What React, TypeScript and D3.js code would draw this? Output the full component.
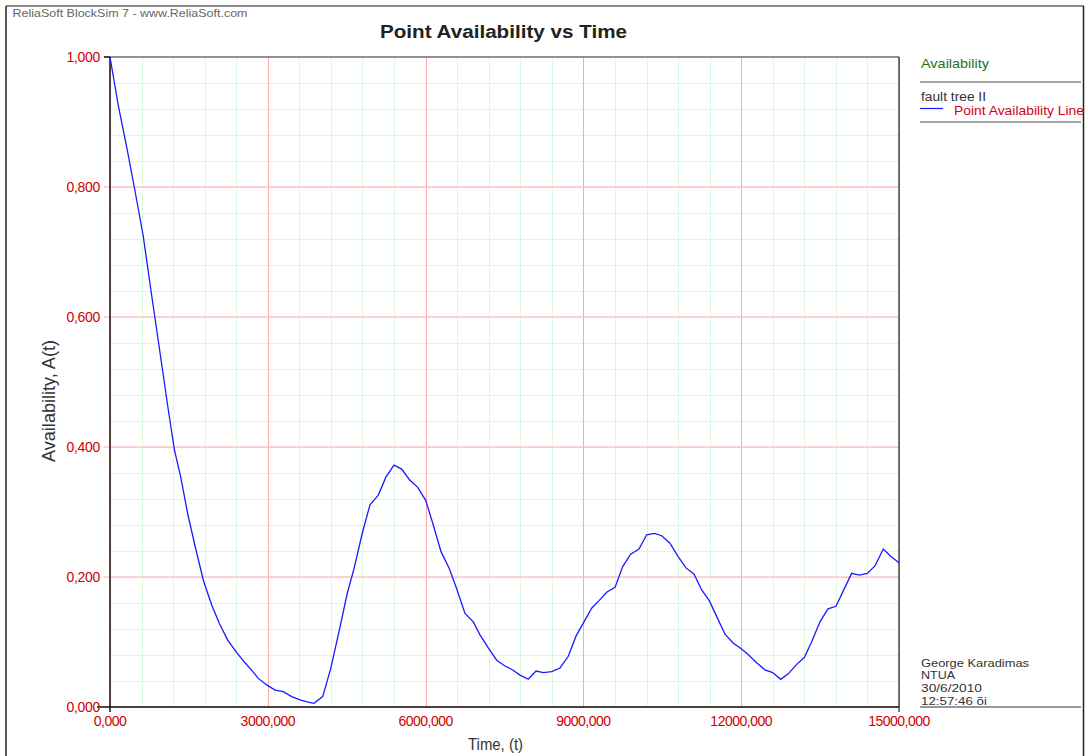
import React from "react";
import * as d3 from "d3";

// Time (hours) and point availability
const times: number[] = [
  0, 158, 316, 473, 631, 789, 951, 1103, 1226, 1344, 1483, 1625, 1774, 1933, 2082, 2238,
  2409, 2567, 2700, 2819, 2979, 3137, 3295, 3454, 3612, 3745, 3878, 4044, 4196, 4359,
  4511, 4639, 4804, 4943, 5101, 5247, 5399, 5546, 5690, 5850, 6002, 6146, 6293, 6450,
  6591, 6749, 6907, 7034, 7192, 7352, 7509, 7656, 7795, 7952, 8099, 8238, 8397, 8555,
  8713, 8859, 8998, 9157, 9302, 9448, 9601, 9747, 9899, 10057, 10203, 10348, 10488,
  10646, 10804, 10950, 11102, 11249, 11393, 11553, 11692, 11850, 11996, 12142, 12294,
  12452, 12599, 12751, 12895, 13055, 13199, 13340, 13498, 13650, 13802, 13954, 14100,
  14245, 14397, 14543, 14701, 14842, 15000,
];
const availability: number[] = [
  1.0, 0.925, 0.862, 0.795, 0.725, 0.635, 0.545, 0.46, 0.395, 0.354, 0.295, 0.245, 0.195,
  0.157, 0.128, 0.103, 0.0835, 0.068, 0.056, 0.044, 0.034, 0.026, 0.0236, 0.016, 0.011,
  0.008, 0.0057, 0.016, 0.059, 0.118, 0.175, 0.213, 0.27, 0.311, 0.326, 0.354, 0.372,
  0.366, 0.35, 0.338, 0.318, 0.28, 0.239, 0.213, 0.182, 0.144, 0.131, 0.111, 0.091, 0.072,
  0.063, 0.057, 0.049, 0.0426, 0.0554, 0.053, 0.0543, 0.06, 0.078, 0.109, 0.129, 0.152,
  0.164, 0.177, 0.184, 0.216, 0.235, 0.243, 0.265, 0.267, 0.2635, 0.252, 0.231, 0.214,
  0.2046, 0.18, 0.1636, 0.136, 0.112, 0.098, 0.09, 0.08, 0.068, 0.057, 0.053, 0.0426,
  0.051, 0.0656, 0.076, 0.1005, 0.131, 0.151, 0.155, 0.181, 0.2056, 0.203, 0.2056, 0.217,
  0.243, 0.232, 0.222,
];
const xTicks: number[] = [0, 3000, 6000, 9000, 12000, 15000];
const yTicks: number[] = [0, 0.2, 0.4, 0.6, 0.8, 1.0];
const footerLines: string[] = ["George Karadimas", "NTUA", "30/6/2010", "12:57:46 õi"];

const FONT = "'Liberation Sans', Arial, sans-serif";

export default function App() {
  const left = 110, right = 899, top = 57, bottom = 707;
  const x = d3.scaleLinear().domain([0, 15000]).range([left, right]);
  const y = d3.scaleLinear().domain([0, 1]).range([bottom, top]);
  const locale = d3.formatLocale({ decimal: ",", thousands: ".", grouping: [3], currency: ["", ""] });
  const fmt = locale.format(".3f");
  const px = (v: number) => Math.round(v) + 0.5;

  const minorX = d3.range(0, 15001, 600);
  const minorY = d3.range(0, 25).map((i) => i * 0.04);

  const pts: [number, number][] = times.map((t, i) => [t, availability[i]]);
  const line = d3
    .line<[number, number]>()
    .x((d) => x(d[0]))
    .y((d) => y(d[1]));

  const footerWidths = [108, 34, 61, 66];

  return (
    <svg width={1088} height={756} style={{ position: "absolute", left: 0, top: 0, background: "#fff" }}>
      <rect x={0} y={0} width={1088} height={756} fill="#fff" />
      {/* outer frame */}
      <line x1={6} y1={6} x2={1084} y2={6} stroke="#8a8a8a" strokeWidth={2} />
      <line x1={6} y1={6} x2={6} y2={756} stroke="#222" strokeWidth={1.5} />
      <line x1={1083.5} y1={6} x2={1083.5} y2={756} stroke="#222" strokeWidth={1.5} />

      <text x={12.5} y={17} fontFamily={FONT} fontSize={11} fill="#666" textLength={235} lengthAdjust="spacingAndGlyphs">
        ReliaSoft BlockSim 7 - www.ReliaSoft.com
      </text>
      <text x={380} y={37.5} fontFamily={FONT} fontSize={18} fontWeight="bold" fill="#222" textLength={247} lengthAdjust="spacingAndGlyphs">
        Point Availability vs Time
      </text>

      {/* grid */}
      {minorX.map((v) => (
        <line key={"mx" + v} x1={px(x(v))} x2={px(x(v))} y1={top} y2={bottom} stroke="#dcf8dc" strokeWidth={1} />
      ))}
      {minorY.map((v) => (
        <line key={"my" + v} x1={left} x2={right} y1={px(y(v))} y2={px(y(v))} stroke="#dcf8dc" strokeWidth={1} />
      ))}
      {xTicks.map((v) => (
        <line key={"gx" + v} x1={px(x(v))} x2={px(x(v))} y1={top} y2={bottom} stroke="#ffaaaa" strokeWidth={1} />
      ))}
      {yTicks.map((v) => (
        <line key={"gy" + v} x1={left - 6} x2={right} y1={y(v)} y2={y(v)} stroke="#ffc4c4" strokeWidth={1.5} />
      ))}

      {/* frame */}
      <line x1={left} x2={right} y1={top} y2={top} stroke="#777" strokeWidth={1.5} />
      <line x1={right} x2={right} y1={top} y2={bottom + 5} stroke="#222" strokeWidth={1.2} />
      <line x1={left} x2={left} y1={top} y2={bottom + 5} stroke="#111" strokeWidth={1.5} />
      <line x1={left - 13} x2={right} y1={bottom} y2={bottom} stroke="#111" strokeWidth={1.5} />
      <line x1={left - 6} x2={left} y1={top} y2={top} stroke="#111" strokeWidth={1.5} />

      {/* curve */}
      <path d={line(pts) || ""} fill="none" stroke="#1a1aff" strokeWidth={1.3} />

      {/* ticks */}
      {xTicks.map((v) => (
        <text key={"tx" + v} x={x(v)} y={726} fontFamily={FONT} fontSize={14} fill="#d00000" textAnchor="middle" letterSpacing={-0.5}>
          {fmt(v)}
        </text>
      ))}
      {yTicks.map((v) => (
        <text key={"ty" + v} x={100} y={y(v) + 5} fontFamily={FONT} fontSize={14} fill="#d00000" textAnchor="end" letterSpacing={-0.3}>
          {fmt(v)}
        </text>
      ))}

      <text x={468} y={750} fontFamily={FONT} fontSize={16} fill="#333" textLength={55} lengthAdjust="spacingAndGlyphs">
        Time, (t)
      </text>
      <text
        transform="translate(55,462) rotate(-90)"
        fontFamily={FONT}
        fontSize={19}
        fill="#333"
        textLength={122}
        lengthAdjust="spacingAndGlyphs"
      >
        Availability, A(t)
      </text>

      {/* legend */}
      <text x={921} y={68} fontFamily={FONT} fontSize={13.5} fill="#1f6f1f" textLength={68} lengthAdjust="spacingAndGlyphs">
        Availability
      </text>
      <line x1={920} x2={1081} y1={82} y2={82} stroke="#888" strokeWidth={1.5} />
      <text x={921} y={101} fontFamily={FONT} fontSize={12} fill="#333" textLength={65} lengthAdjust="spacingAndGlyphs">
        fault tree II
      </text>
      <line x1={920} x2={943} y1={108.5} y2={108.5} stroke="#1a1aff" strokeWidth={1.2} />
      <text x={954} y={114.5} fontFamily={FONT} fontSize={13} fill="#d4001a" textLength={130} lengthAdjust="spacingAndGlyphs">
        Point Availability Line
      </text>
      <line x1={920} x2={1081} y1={122} y2={122} stroke="#888" strokeWidth={1.5} />

      {/* footer */}
      {footerLines.map((s, i) => (
        <text key={s} x={921} y={666.5 + i * 12.8} fontFamily={FONT} fontSize={11} fill="#333" textLength={footerWidths[i]} lengthAdjust="spacingAndGlyphs">
          {s}
        </text>
      ))}
      <line x1={920} x2={1081} y1={707} y2={707} stroke="#333" strokeWidth={1.2} />
    </svg>
  );
}
